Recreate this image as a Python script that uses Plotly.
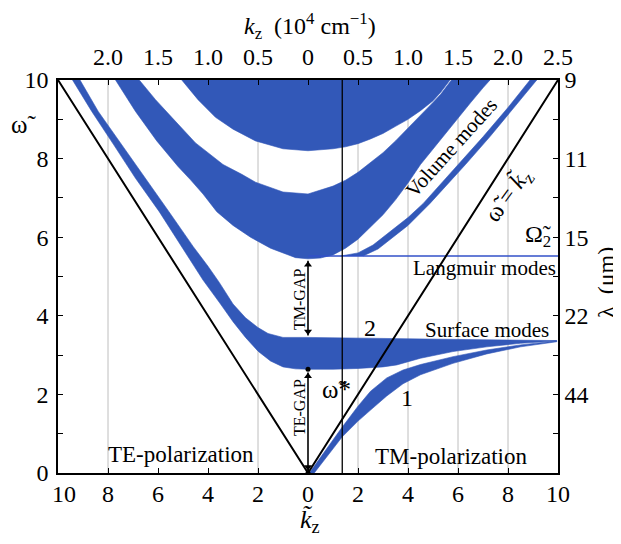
import plotly.graph_objects as go

# ---------------- data (k_z tilde, omega tilde) ----------------
# top volume band (band 1): lower boundary, TE side and TM side
TE_B1_LOW_K = [-5.05, -4.4, -3.7, -3.0, -2.1, -1.0, 0.0]
TE_B1_LOW_W = [10.0, 9.5, 9.05, 8.75, 8.45, 8.25, 8.2]
TM_B1_LOW_K = [0.0, 1.0, 1.5, 2.0, 2.5, 3.0, 3.5, 4.0, 4.5, 5.0, 5.3, 5.55, 5.68]
TM_B1_LOW_W = [8.2, 8.25, 8.3, 8.38, 8.5, 8.64, 8.82, 9.0, 9.22, 9.47, 9.68, 9.88, 10.0]

# second volume band (band 2)
TE_B2_LOW_K = [-7.7, -6.9, -6.05, -5.2, -4.7, -4.2, -3.65, -3.0, -2.3, -1.5, -1.0, -0.5, 0.0]
TE_B2_LOW_W = [10.0, 9.2, 8.45, 7.8, 7.46, 7.1, 6.65, 6.3, 6.0, 5.72, 5.6, 5.48, 5.45]
TM_B2_LOW_K = [0.0, 0.5, 1.0, 1.5, 2.0, 2.5, 3.0, 3.5, 4.0, 4.5, 5.0, 5.5, 6.0, 6.5, 7.0, 7.28]
TM_B2_LOW_W = [5.45, 5.47, 5.55, 5.72, 5.95, 6.25, 6.57, 6.95, 7.38, 7.85, 8.25, 8.62, 9.02, 9.42, 9.8, 10.0]
TM_B2_UP_K = [0.0, 1.0, 1.5, 2.0, 2.5, 3.0, 3.5, 4.0, 4.5, 5.0, 5.3, 5.55, 5.74]
TM_B2_UP_W = [7.1, 7.3, 7.45, 7.65, 7.9, 8.15, 8.45, 8.78, 9.1, 9.43, 9.63, 9.83, 10.0]
TE_B2_UP_K = [0.0, -1.0, -2.1, -2.65, -3.4, -4.5, -5.45, -6.1, -6.75]
TE_B2_UP_W = [7.1, 7.15, 7.4, 7.6, 7.85, 8.4, 9.05, 9.5, 10.0]

# third (thin) TM volume band
TM_B3_LEFT_K = [1.3, 2.0, 2.6, 3.28, 4.0, 4.61, 5.3, 6.0, 7.01, 8.0, 8.88]
TM_B3_LEFT_W = [5.52, 5.6, 5.8, 6.14, 6.5, 6.86, 7.35, 7.85, 8.56, 9.3, 10.0]
TM_B3_RIGHT_K = [2.2, 2.8, 3.28, 4.0, 4.88, 5.6, 6.3, 7.28, 8.25, 9.15]
TM_B3_RIGHT_W = [5.52, 5.7, 5.93, 6.3, 6.86, 7.35, 7.85, 8.56, 9.3, 10.0]

# lowest band: TE branch along the light line + TM surface mode 2
TE_LOW_OUT_K = [0.0, -0.5, -1.0, -1.5, -2.0, -2.5, -3.0, -3.5, -4.2, -5.0, -5.95, -6.9, -7.77, -8.65, -9.42]
TE_LOW_OUT_W = [2.64, 2.65, 2.70, 2.85, 3.1, 3.45, 3.85, 4.3, 4.91, 5.7, 6.65, 7.5, 8.35, 9.2, 10.0]
TE_LOW_IN_K = [0.0, -1.0, -1.6, -2.0, -2.5, -3.0, -3.55, -4.0, -4.59, -5.52, -6.5, -7.45, -8.39, -9.12]
TE_LOW_IN_W = [3.45, 3.45, 3.55, 3.7, 3.95, 4.3, 4.85, 5.26, 5.76, 6.61, 7.5, 8.35, 9.2, 10.0]
TM_S2_LOW_K = [0.0, 1.0, 2.0, 3.0, 3.55, 4.5, 5.8, 7.15, 8.5, 9.95]
TM_S2_LOW_W = [2.64, 2.64, 2.66, 2.70, 2.75, 2.92, 3.09, 3.21, 3.30, 3.36]
TM_S2_UP_K = [0.0, 1.0, 3.0, 5.0, 7.0, 9.95]
TM_S2_UP_W = [3.45, 3.44, 3.43, 3.41, 3.39, 3.37]

# TM surface mode 1
TM_S1_UP_K = [0.05, 0.5, 1.0, 1.37, 2.0, 2.5, 3.15, 3.8, 4.5, 5.8, 7.15, 8.5, 9.95]
TM_S1_UP_W = [0.0, 0.4, 0.85, 1.17, 1.7, 2.08, 2.42, 2.62, 2.76, 2.96, 3.13, 3.26, 3.36]
TM_S1_LOW_K = [0.25, 0.75, 1.37, 2.0, 2.5, 3.15, 3.8, 4.5, 5.8, 7.15, 8.5, 9.95]
TM_S1_LOW_W = [0.0, 0.4, 0.92, 1.32, 1.6, 1.96, 2.27, 2.5, 2.79, 3.03, 3.21, 3.34]

# reference lines / levels
LIGHT_K = [-10.0, 0.0, 10.0]
LIGHT_W = [10.0, 0.0, 10.0]
OMEGA_STAR_K = 1.37
LANGMUIR_W = 5.52
LANGMUIR_K = [0.0, 10.0]
TE_GAP = [0.05, 2.56]
TM_GAP = [3.5, 5.4]
GAP_DOT_W = 2.64
GRID_K = [-8, -2, 2, 4, 6, 8]

# ticks
NB = "\u00a0"
BOTTOM_TICKS = [-10, -8, -6, -4, -2, 0, 2, 4, 6, 8, 10]
BOTTOM_LABELS = [NB * 2 + "10", "8", "6", "4", "2", "0", "2", "4", "6", "8", "10"]
TOP_TICKS = [-8, -6, -4, -2, 0, 2, 4, 6, 8, 10]
TOP_LABELS = ["2.0", "1.5", "1.0", "0.5", "0", "0.5", "1.0", "1.5", "2.0", "2.5"]
LEFT_TICKS = [0, 2, 4, 6, 8, 10]
LEFT_LABELS = ["0", "2", "4", "6", "8", "10"]
MINOR_W = [1, 3, 5, 7, 9]
RIGHT_TICKS = [2, 4, 6, 8, 10]
RIGHT_LABELS = ["44", "22", "15", "11", "9"]

BLUE = "rgb(50,88,184)"
FONT = "Liberation Serif"

fig = go.Figure()


def band(xs, ys):
    fig.add_trace(go.Scatter(x=xs, y=ys, mode="lines", fill="toself",
                             fillcolor=BLUE, line=dict(width=0.6, color=BLUE),
                             hoverinfo="skip", showlegend=False))


# band 1
band(TE_B1_LOW_K + TM_B1_LOW_K[1:], TE_B1_LOW_W + TM_B1_LOW_W[1:])
# band 2
band(TE_B2_LOW_K + TM_B2_LOW_K[1:] + TM_B2_UP_K[::-1] + TE_B2_UP_K[1:],
     TE_B2_LOW_W + TM_B2_LOW_W[1:] + TM_B2_UP_W[::-1] + TE_B2_UP_W[1:])
# band 3
band(TM_B3_LEFT_K + TM_B3_RIGHT_K[::-1], TM_B3_LEFT_W + TM_B3_RIGHT_W[::-1])
# lowest band (TE branch + TM surface 2)
band(TE_LOW_OUT_K[::-1] + TM_S2_LOW_K[1:] + TM_S2_UP_K[::-1] + TE_LOW_IN_K[1:],
     TE_LOW_OUT_W[::-1] + TM_S2_LOW_W[1:] + TM_S2_UP_W[::-1] + TE_LOW_IN_W[1:])
# TM surface 1
band(TM_S1_UP_K + TM_S1_LOW_K[::-1], TM_S1_UP_W + TM_S1_LOW_W[::-1])

# Langmuir line
fig.add_trace(go.Scatter(x=LANGMUIR_K, y=[LANGMUIR_W, LANGMUIR_W], mode="lines",
                         line=dict(color="rgb(50,80,200)", width=1.5),
                         hoverinfo="skip", showlegend=False))
# light lines
fig.add_trace(go.Scatter(x=LIGHT_K, y=LIGHT_W, mode="lines",
                         line=dict(color="black", width=2), hoverinfo="skip", showlegend=False))
# omega* vertical line
fig.add_trace(go.Scatter(x=[OMEGA_STAR_K, OMEGA_STAR_K], y=[0, 10], mode="lines",
                         line=dict(color="black", width=1.3), hoverinfo="skip", showlegend=False))
# gap arrows (double headed)
for lo, hi in (TE_GAP, TM_GAP):
    fig.add_trace(go.Scatter(x=[0, 0], y=[lo, hi], mode="lines",
                             line=dict(color="black", width=1.6),
                             hoverinfo="skip", showlegend=False))
    fig.add_trace(go.Scatter(x=[0, 0], y=[lo + 0.1, hi - 0.1], mode="markers",
                             marker=dict(color="black", size=7,
                                         symbol=["triangle-down", "triangle-up"]),
                             hoverinfo="skip", showlegend=False))
# gap dots
fig.add_trace(go.Scatter(x=[0, 0], y=[GAP_DOT_W, 0], mode="markers",
                         marker=dict(color="black", size=5), hoverinfo="skip", showlegend=False))
# dummy trace for secondary axes
fig.add_trace(go.Scatter(x=[None], y=[None], xaxis="x2", yaxis="y2", showlegend=False))

shapes = []
for g in GRID_K:
    shapes.append(dict(type="line", xref="x", yref="y", x0=g, x1=g, y0=0, y1=10,
                       line=dict(color="rgb(190,190,190)", width=1), layer="below"))

tickfont = dict(family=FONT, size=24, color="black")
axis_common = dict(showline=True, linecolor="black", linewidth=1.5, ticks="inside",
                   ticklen=5, tickwidth=1, tickcolor="black", showgrid=False,
                   zeroline=False, tickfont=tickfont, fixedrange=True)
minor_y = dict(tickvals=MINOR_W, ticks="inside", ticklen=5, tickwidth=1,
               tickcolor="black", showgrid=False)

# the page adds an 8 px body margin, so the figure is 8 px smaller and the
# left/top margins 8 px smaller, keeping the plot area at x 58..558, y 80..473
fig.update_layout(
    width=613, height=536,
    margin=dict(l=50, r=63, t=72, b=71),
    paper_bgcolor="white", plot_bgcolor="white",
    xaxis=dict(range=[-10, 10], tickvals=BOTTOM_TICKS, ticktext=BOTTOM_LABELS,
               ticklabelstandoff=-2, **axis_common),
    xaxis2=dict(range=[-10, 10], overlaying="x", side="top", anchor="y",
                tickvals=TOP_TICKS, ticktext=TOP_LABELS, ticklabelstandoff=4, **axis_common),
    yaxis=dict(range=[0, 10], tickvals=LEFT_TICKS, ticktext=LEFT_LABELS,
               ticklabelstandoff=3, minor=minor_y, **axis_common),
    yaxis2=dict(range=[0, 10], overlaying="y", side="right", anchor="x",
                tickvals=RIGHT_TICKS, ticktext=RIGHT_LABELS, minor=minor_y, **axis_common),
    shapes=shapes,
    showlegend=False,
)


def px(x, y):
    # screen pixel -> paper coordinates of the plot area (58..558, 80..473)
    return (x - 58) / 500.0, (473 - y) / 393.0


def label(text, x, y, size=21, angle=0):
    X, Y = px(x, y)
    fig.add_annotation(text=text, x=X, y=Y, xref="paper", yref="paper", showarrow=False,
                       textangle=angle, font=dict(family=FONT, size=size, color="black"),
                       xanchor="center", yanchor="middle")


label("<i>k</i><sub>z</sub>  (10<sup>4</sup> cm<sup>−1</sup>)", 310, 26, 24)
label("ω̃", 23, 124, 25)
label("<i>k̃</i><sub>z</sub>", 310, 521, 26)
label("λ  (μm)", 606, 283, 24, -90)
label("TE-polarization", 181, 454, 23)
label("TM-polarization", 451, 456, 23)
label("TE-GAP", 299, 408, 16, -90)
label("TM-GAP", 299, 300, 16, -90)
label("ω̃*", 336, 389, 25)
label("2", 370, 328, 24)
label("1", 407, 398, 24)
label("Surface modes", 487, 330, 21)
label("Langmuir modes", 484, 268, 21)
label("Volume modes", 451, 148, 21, -48)
label("ω̃ = <i>k̃</i><sub>z</sub>", 508, 196, 24, -54)
label("Ω̃<sub>2</sub>", 538, 236, 24)

fig.write_html("out.html")
